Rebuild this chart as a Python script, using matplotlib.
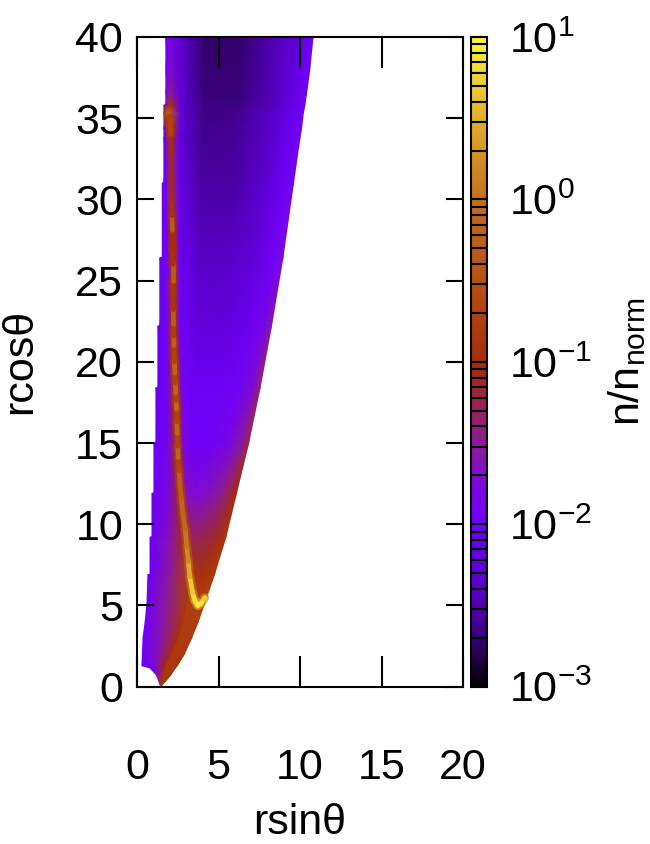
import matplotlib
matplotlib.use("Agg")
import matplotlib.pyplot as plt
import numpy as np
from matplotlib.cm import ScalarMappable
from matplotlib.collections import LineCollection
from matplotlib.colors import LinearSegmentedColormap, LogNorm, Normalize
from matplotlib.ticker import LogLocator, NullFormatter

plt.rcParams["font.family"] = ["Liberation Sans", "DejaVu Sans"]
plt.rcParams["mathtext.fontset"] = "custom"
plt.rcParams["mathtext.rm"] = "Liberation Sans"
plt.rcParams["mathtext.it"] = "Liberation Sans"
plt.rcParams["mathtext.default"] = "regular"

# palette as it looks on the colour bar
pal_pos = [0, 0.05, 0.1, 0.15, 0.25, 0.31, 0.375, 0.5, 0.625, 0.75, 0.875, 1]
pal_rgb = ["#000000", "#280050", "#460096", "#5a00c8", "#6e00fa", "#7d08e0", "#8c1c96",
           "#a52d0a", "#b85014", "#c36e1e", "#e1af2d", "#faf53c"]

# outline of the plume, rows from the bottom up (doubled rows = stair steps)
row_y = [0.1, 0.7, 1.15, 1.3, 2.0, 3.0, 4.0, 5.0, 5.6, 6.9, 6.91, 9.2, 9.21, 11.9, 11.91,
         15.0, 15.01, 18.4, 18.41, 22.2, 22.21, 26.4, 26.41, 31.0, 31.01, 33.8, 34.4, 35.3,
         35.8, 35.81, 36.5, 38.0, 40.0]
row_left = [1.42, 1.2, 0.8, 0.3, 0.33, 0.37, 0.5, 0.6, 0.63, 0.67, 0.8, 0.8, 0.92, 0.92, 1.04,
            1.04, 1.16, 1.16, 1.28, 1.28, 1.4, 1.4, 1.55, 1.55, 1.65, 1.65, 1.65, 1.65,
            1.65, 1.77, 1.77, 1.77, 1.77]
row_split = [1.47, 1.62, 1.68, 1.72, 2.1, 2.5, 2.8, 3.0, 3.1, 3.1, 3.1, 2.95, 2.95, 2.68, 2.68,
             2.47, 2.47, 2.37, 2.37, 2.22, 2.22, 2.17, 2.17, 2.08, 2.08, 2.03, 2.03, 2.02,
             2.02, 2.02, 2.0, 2.0, 1.98]
row_right = [1.52, 2.05, 2.35, 2.47, 2.9, 3.35, 3.75, 4.1, 4.3, 4.75, 4.75, 5.45, 5.45, 6.1, 6.1,
             6.85, 6.85, 7.55, 7.55, 8.25, 8.25, 8.95, 8.95, 9.6, 9.6, 10.0, 10.1, 10.2,
             10.3, 10.3, 10.4, 10.6, 10.8]

# where the columns sit between left-split and split-right
left_frac = [0.0, 0.5, 1.0]
right_frac = [0.08, 0.25, 0.5, 0.75, 0.92, 1.0]

# log10(n/n_norm), one line per row above
log_density = [
    [-1.0, -1.0, -0.9, -0.9, -0.9, -0.9, -0.9, -0.9, -0.9],
    [-1.7, -1.4, -0.95, -0.85, -0.85, -0.85, -0.85, -0.85, -0.85],
    [-2.0, -1.7, -1.0, -0.85, -0.85, -0.85, -0.85, -0.85, -0.85],
    [-2.0, -1.75, -1.05, -0.85, -0.85, -0.85, -0.85, -0.85, -0.85],
    [-2.0, -1.65, -1.0, -0.85, -0.85, -0.85, -0.85, -0.85, -0.85],
    [-2.0, -1.6, -0.95, -0.8, -0.8, -0.8, -0.8, -0.8, -0.8],
    [-2.0, -1.55, -0.9, -0.8, -0.8, -0.8, -0.8, -0.8, -0.8],
    [-2.0, -1.5, -0.85, -0.75, -0.75, -0.75, -0.75, -0.7, -0.7],
    [-2.0, -1.5, -0.8, -0.75, -0.8, -0.8, -0.8, -0.75, -0.7],
    [-2.0, -1.55, -0.8, -0.85, -0.95, -0.95, -0.9, -0.85, -0.8],
    [-2.0, -1.55, -0.8, -0.85, -0.95, -0.95, -0.9, -0.85, -0.8],
    [-2.05, -1.65, -1.0, -1.2, -1.3, -1.25, -1.1, -0.95, -0.85],
    [-2.05, -1.65, -1.0, -1.2, -1.3, -1.25, -1.1, -0.95, -0.85],
    [-2.05, -1.85, -1.1, -1.6, -1.75, -1.65, -1.45, -1.15, -1.0],
    [-2.05, -1.85, -1.1, -1.6, -1.75, -1.65, -1.45, -1.15, -1.0],
    [-2.05, -1.95, -1.15, -1.8, -2.0, -1.95, -1.8, -1.5, -1.2],
    [-2.05, -1.95, -1.15, -1.8, -2.0, -1.95, -1.8, -1.5, -1.2],
    [-2.05, -1.95, -1.2, -1.9, -2.05, -2.05, -1.95, -1.7, -1.35],
    [-2.05, -1.95, -1.2, -1.9, -2.05, -2.05, -1.95, -1.7, -1.35],
    [-2.05, -1.95, -1.3, -2.0, -2.25, -2.25, -2.1, -1.85, -1.55],
    [-2.05, -1.95, -1.3, -2.0, -2.25, -2.25, -2.1, -1.85, -1.55],
    [-2.05, -1.95, -1.4, -2.05, -2.4, -2.4, -2.25, -1.95, -1.75],
    [-2.05, -1.95, -1.4, -2.05, -2.4, -2.4, -2.25, -1.95, -1.75],
    [-2.05, -1.9, -1.5, -2.15, -2.55, -2.55, -2.35, -2.05, -1.85],
    [-2.05, -1.9, -1.5, -2.15, -2.55, -2.55, -2.35, -2.05, -1.85],
    [-2.05, -1.9, -1.5, -2.2, -2.62, -2.6, -2.4, -2.1, -1.9],
    [-2.05, -1.1, -0.8, -2.2, -2.62, -2.6, -2.4, -2.1, -1.9],
    [-0.9, -0.25, -0.3, -2.2, -2.65, -2.62, -2.4, -2.1, -1.95],
    [-2.05, -1.0, -0.9, -2.25, -2.65, -2.65, -2.45, -2.15, -1.95],
    [-2.05, -1.0, -0.9, -2.25, -2.65, -2.65, -2.45, -2.15, -1.95],
    [-2.05, -1.6, -1.5, -2.25, -2.68, -2.68, -2.45, -2.15, -1.95],
    [-2.05, -1.85, -1.7, -2.3, -2.7, -2.7, -2.45, -2.15, -1.95],
    [-2.05, -1.95, -1.85, -2.3, -2.72, -2.7, -2.45, -2.15, -1.95],
]

# thin bright ridge, from the right end of the U up to the top
ridge_x = [4.16, 3.95, 3.73, 3.55, 3.42, 3.24, 3.15, 3.06, 2.95, 2.81, 2.72, 2.63, 2.58, 2.52, 2.5,
           2.47, 2.44, 2.42, 2.4, 2.38, 2.35, 2.32, 2.3, 2.27, 2.25, 2.24, 2.23, 2.21, 2.2, 2.2,
           2.19, 2.17, 2.14, 2.12, 2.1, 2.08, 2.06, 2.04]
ridge_y = [5.5, 5.15, 5.0, 5.3, 5.75, 6.75, 7.7, 8.6, 9.7, 10.7, 11.6, 12.5, 13.3, 14.1, 14.8,
           15.6, 16.3, 17.1, 17.6, 18.1, 18.7, 19.3, 20.0, 21.0, 21.6, 22.3, 23.2, 24.2, 25.0, 26.0,
           27.0, 28.1, 29.0, 30.0, 31.5, 33.0, 34.0, 35.0]
ridge_level = [0.75, 0.9, 0.9, 0.85, 0.7, 0.45, 0.2, 0.05, -0.1, -0.15, -0.3, -0.3, -0.7, -0.2, -0.7,
               -0.2, -0.7, -0.2, -0.7, -0.2, -0.7, -0.2, -0.7, -0.3, -0.8, -0.3, -0.9, -0.85, -0.3, -0.95,
               -1.0, -0.35, -0.95, -1.1, -1.15, -1.1, -0.7, -0.3]
ridge_glow = [0.2, 0.35, 0.35, 0.3, 0.1, -0.2, -0.4, -0.5, -0.6, -0.7, -0.75, -0.8, -0.85, -0.85, -0.85,
              -0.85, -0.85, -0.85, -0.85, -0.85, -0.85, -0.85, -0.9, -0.9, -1.0, -1.0, -1.05, -1.05, -1.0, -1.1,
              -1.15, -1.0, -1.15, -1.25, -1.3, -1.3, -0.9, -0.6]

cbar_ticks = [1e-3, 1e-2, 1e-1, 1e0, 1e1]
x_ticks = [0, 5, 10, 15, 20]
y_ticks = [0, 5, 10, 15, 20, 25, 30, 35, 40]

cmap = LinearSegmentedColormap.from_list("ref", list(zip(pal_pos, pal_rgb)), N=512)

left = np.array(row_left)
split = np.array(row_split)
right = np.array(row_right)
mesh_x = np.column_stack(
    [left + f * (split - left) for f in left_frac] + [split + f * (right - split) for f in right_frac]
)
mesh_y = np.repeat(np.array(row_y)[:, None], mesh_x.shape[1], axis=1)
norm = Normalize(-3, 1)

fig = plt.figure(figsize=(6.5, 8.44), dpi=100)
ax = fig.add_axes([137 / 650, 1 - 686.7 / 844, 326 / 650, 649.7 / 844])
ax.pcolormesh(mesh_x, mesh_y, np.array(log_density), cmap=cmap, norm=norm, shading="gouraud")

pts = np.column_stack([ridge_x, ridge_y])
segs = np.stack([pts[:-1], pts[1:]], axis=1)
glow = LineCollection(segs, cmap=cmap, norm=norm, linewidths=6.5, capstyle="round", alpha=0.6)
glow.set_array(np.array(ridge_glow[:-1]))
ax.add_collection(glow)
lc = LineCollection(segs, cmap=cmap, norm=norm, linewidths=3.4, capstyle="round")
lc.set_array(np.array(ridge_level[:-1]))
ax.add_collection(lc)

ax.set_xlim(0, 20)
ax.set_ylim(0, 40)
ax.set_xticks(x_ticks)
ax.set_yticks(y_ticks)
ax.tick_params(axis="x", direction="in", top=True, length=22, width=1.5, labelsize=31, pad=44)
ax.tick_params(axis="y", direction="in", right=True, length=12, width=1.5, labelsize=31, pad=10)
for s in ax.spines.values():
    s.set_linewidth(1.5)
ax.set_xlabel("rsinθ", fontsize=31, labelpad=11)
ax.set_ylabel("rcosθ", fontsize=31, labelpad=25)

cax = fig.add_axes([471 / 650, 1 - 686.7 / 844, 16 / 650, 649.7 / 844])
cb = fig.colorbar(ScalarMappable(LogNorm(1e-3, 10), cmap=cmap), cax=cax)
cb.set_ticks(cbar_ticks)
cax.yaxis.set_minor_locator(LogLocator(base=10, subs=range(2, 10)))
cax.yaxis.set_minor_formatter(NullFormatter())
cax.tick_params(which="major", direction="in", length=11.5, width=1.5, labelsize=31, pad=16)
cax.tick_params(which="minor", direction="in", length=11.5, width=1.5)
cb.outline.set_linewidth(1.5)
cb.set_label("n/n$_{norm}$", fontsize=31, labelpad=10)

fig.savefig("out.png", dpi=100)
